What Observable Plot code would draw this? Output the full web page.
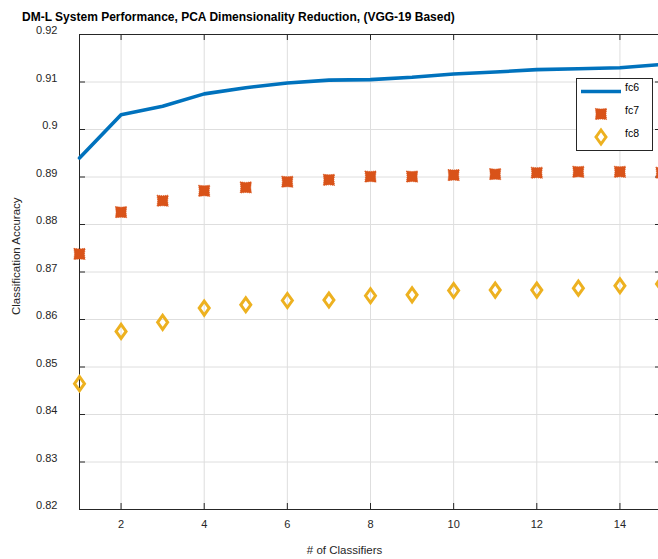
<!DOCTYPE html>
<html><head><meta charset="utf-8">
<script src="https://cdn.jsdelivr.net/npm/d3@7"></script>
<script src="https://cdn.jsdelivr.net/npm/@observablehq/plot@0.6"></script>
<style>
body{margin:0;background:#fff;font-family:"Liberation Sans",Arial,sans-serif;}
#wrap{position:relative;width:658px;height:559px;overflow:hidden;background:#fff;}
#title{height:16px;padding-top:10px;padding-left:22px;font-weight:bold;font-size:12px;line-height:14px;color:#000;white-space:nowrap;}
#legend{position:absolute;left:576px;top:78px;}
</style></head><body>
<div id="wrap">
<div id="title"></div>
<div id="chart"></div>
<div id="legend"></div>
</div>
<script>
const titleText = "DM-L System Performance, PCA Dimensionality Reduction, (VGG-19 Based)";
const xLabel = "# of Classifiers";
const yLabel = "Classification Accuracy";
const classifiers = [1,2,3,4,5,6,7,8,9,10,11,12,13,14,15];
const fc6 = [0.8940,0.9031,0.9049,0.9075,0.9088,0.9098,0.9104,0.9105,0.9110,0.9117,0.9121,0.9126,0.9128,0.9130,0.9137];
const fc7 = [0.8738,0.8826,0.8850,0.8871,0.8878,0.8890,0.8894,0.8901,0.8901,0.8904,0.8906,0.8909,0.8911,0.8911,0.8909];
const fc8 = [0.8465,0.8575,0.8594,0.8624,0.8631,0.8640,0.8641,0.8650,0.8652,0.8661,0.8662,0.8662,0.8666,0.8671,0.8675];
const seriesNames = ["fc6","fc7","fc8"];
const seriesColors = ["#0072BD","#D95319","#EDB120"];
const xTicks = [2,4,6,8,10,12,14];
const yTicks = [0.82,0.83,0.84,0.85,0.86,0.87,0.88,0.89,0.9,0.91,0.92];

document.getElementById("title").textContent = titleText;

const W = 658, H = 533, mL = 79, mR = -3, mT = 8, mB = 50;
const fw = W - mL - mR, fh = H - mT - mB;
const axisColor = "#262626";

const diamond = {draw(ctx){ctx.moveTo(0,-7);ctx.lineTo(5,0);ctx.lineTo(0,7);ctx.lineTo(-5,0);ctx.closePath();}};
const xblob = {draw(ctx){
  const a=5.6,b=5.0;
  ctx.moveTo(-a,-a);ctx.lineTo(0,-b);ctx.lineTo(a,-a);ctx.lineTo(b,0);
  ctx.lineTo(a,a);ctx.lineTo(0,b);ctx.lineTo(-a,a);ctx.lineTo(-b,0);ctx.closePath();}};

const rows6 = classifiers.map((c,i)=>({c, v: fc6[i]}));
const rows7 = classifiers.map((c,i)=>({c, v: fc7[i]}));
const rows8 = classifiers.map((c,i)=>({c, v: fc8[i]}));

const chart = Plot.plot({
  width: W, height: H,
  marginLeft: mL, marginRight: mR, marginTop: mT, marginBottom: mB,
  style: {fontFamily: '"Liberation Sans", Arial, sans-serif', background: "#fff", overflow: "visible"},
  x: {domain: [1,15]},
  y: {domain: [0.82,0.92]},
  marks: [
    Plot.gridX(xTicks, {stroke: "#dedede", strokeOpacity: 1}),
    Plot.gridY(yTicks, {stroke: "#dedede", strokeOpacity: 1}),
    Plot.tickY(yTicks, {y: d=>d, insetRight: fw-6, stroke: axisColor}),
    Plot.tickY(yTicks, {y: d=>d, insetLeft: fw-6, stroke: axisColor}),
    Plot.tickX(xTicks, {x: d=>d, insetTop: fh-6, stroke: axisColor}),
    Plot.tickX(xTicks, {x: d=>d, insetBottom: fh-6, stroke: axisColor}),
    Plot.frame({stroke: axisColor}),
    Plot.axisX({ticks: xTicks, tickSize: 0, tickPadding: 11, fontSize: 11, color: axisColor, label: null}),
    Plot.axisY({ticks: yTicks, tickSize: 0, tickPadding: 22, dy: -4, fontSize: 11, color: axisColor, label: null, tickFormat: d3.format("~g")}),
    Plot.line(rows6, {x: "c", y: "v", stroke: seriesColors[0], strokeWidth: 3.6}),
    Plot.dot(rows7, {x: "c", y: "v", symbol: xblob, fill: seriesColors[1], stroke: seriesColors[1], strokeWidth: 0.8, strokeDasharray: "1,1"}),
    Plot.dot(rows8, {x: "c", y: "v", symbol: diamond, fill: "none", stroke: seriesColors[2], strokeWidth: 3}),
    Plot.text([xLabel], {text: d=>d, frameAnchor: "bottom", dx: -26, dy: 41, lineAnchor: "middle", fontSize: 11.5, fill: axisColor}),
    Plot.text([yLabel], {text: d=>d, frameAnchor: "left", rotate: -90, dx: -63, dy: 43, lineAnchor: "middle", fontSize: 11.5, fill: axisColor})
  ]
});
document.getElementById("chart").appendChild(chart);

// legend
const lg = d3.select("#legend").append("svg").attr("width", 78).attr("height", 74)
  .style("font-family", '"Liberation Sans", Arial, sans-serif');
lg.append("rect").attr("x",0.5).attr("y",0.5).attr("width",76).attr("height",72).attr("fill","#fff").attr("stroke",axisColor);
const ly = [13.5, 36, 59];
lg.append("line").attr("x1",5).attr("x2",45).attr("y1",ly[0]).attr("y2",ly[0]).attr("stroke",seriesColors[0]).attr("stroke-width",3.6);
lg.append("path").attr("transform",`translate(25,${ly[1]})`).attr("d", d3.symbol(xblob)()).attr("fill",seriesColors[1]).attr("stroke",seriesColors[1]).attr("stroke-width",0.8).attr("stroke-dasharray","1,1");
lg.append("path").attr("transform",`translate(25,${ly[2]})`).attr("d", d3.symbol(diamond)()).attr("fill","none").attr("stroke",seriesColors[2]).attr("stroke-width",3);
seriesNames.forEach((n,i)=>{
  lg.append("text").attr("x",49).attr("y",ly[i]-4).attr("dy","0.35em").attr("font-size",10.5).attr("fill","#000").text(n);
});
</script>
</body></html>
